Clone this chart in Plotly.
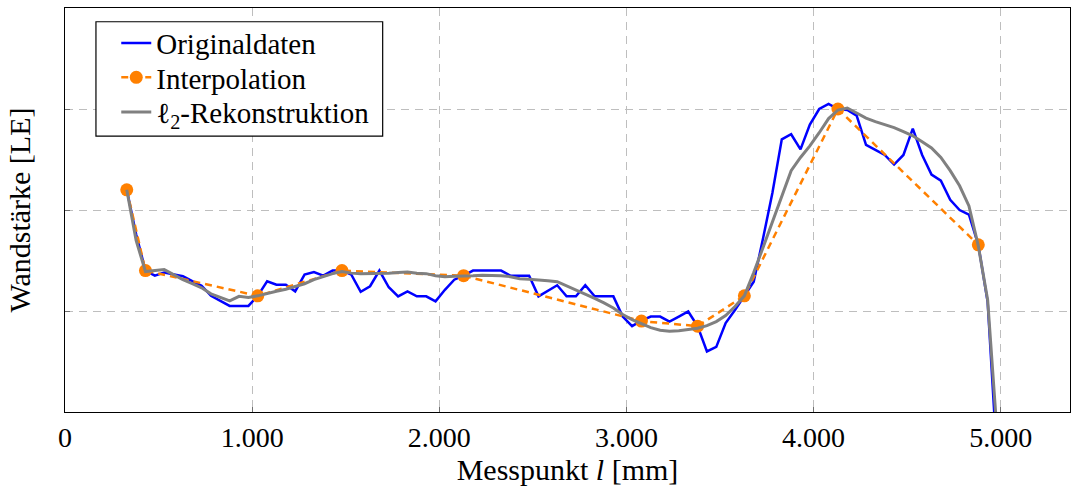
import plotly.graph_objects as go

# Original data (Messpunkt in mm, Wandstärke in LE)
orig_x = [330, 380, 430, 480, 530, 580, 630, 680, 730, 780, 830, 880, 930, 980,
          1030, 1080, 1130, 1180, 1230, 1280, 1330, 1380, 1430, 1480, 1530, 1580,
          1630, 1680, 1730, 1780, 1830, 1880, 1930, 1980, 2030, 2080, 2130, 2180,
          2230, 2280, 2330, 2380, 2430, 2480, 2530, 2580, 2630, 2680, 2730, 2780,
          2830, 2880, 2930, 2980, 3030, 3080, 3130, 3180, 3230, 3280, 3330, 3380,
          3430, 3480, 3530, 3580, 3630, 3680, 3730, 3780, 3830, 3880, 3930, 3980,
          4030, 4080, 4130, 4180, 4230, 4280, 4330, 4380, 4430, 4480, 4530, 4580,
          4630, 4680, 4730, 4780, 4830, 4880, 4930, 4980]
orig_y = [2.20, 1.76, 1.40, 1.35, 1.38, 1.36, 1.345, 1.295, 1.25, 1.15, 1.10, 1.05,
          1.05, 1.05, 1.15, 1.295, 1.26, 1.26, 1.195, 1.36, 1.385, 1.35, 1.40, 1.40,
          1.36, 1.19, 1.245, 1.40, 1.235, 1.145, 1.195, 1.145, 1.145, 1.095, 1.21,
          1.31, 1.35, 1.40, 1.40, 1.40, 1.40, 1.35, 1.35, 1.35, 1.145, 1.20, 1.255,
          1.145, 1.145, 1.255, 1.145, 1.145, 1.145, 0.945, 0.85, 0.905, 0.945, 0.945,
          0.895, 0.945, 0.995, 0.85, 0.60, 0.645, 0.88, 1.01, 1.15, 1.29, 1.72, 2.17,
          2.70, 2.75, 2.60, 2.845, 3.00, 3.05, 3.00, 2.99, 2.935, 2.645, 2.595, 2.545,
          2.45, 2.545, 2.805, 2.545, 2.35, 2.29, 2.10, 2.00, 1.955, 1.655, 1.09, -0.47]

# l2 reconstruction, same sample positions
rec_y = [2.20, 1.70, 1.39, 1.40, 1.41, 1.36, 1.31, 1.27, 1.23, 1.17, 1.135, 1.10,
         1.145, 1.135, 1.15, 1.175, 1.195, 1.215, 1.24, 1.27, 1.31, 1.34, 1.37, 1.39,
         1.375, 1.37, 1.37, 1.37, 1.375, 1.38, 1.385, 1.375, 1.37, 1.35, 1.34, 1.345,
         1.345, 1.35, 1.355, 1.355, 1.35, 1.34, 1.32, 1.315, 1.31, 1.30, 1.29, 1.25,
         1.21, 1.17, 1.125, 1.08, 1.03, 0.965, 0.915, 0.875, 0.835, 0.81, 0.80, 0.805,
         0.815, 0.83, 0.855, 0.895, 0.955, 1.045, 1.15, 1.38, 1.63, 1.885, 2.14, 2.39,
         2.52, 2.635, 2.765, 2.905, 2.99, 3.01, 2.96, 2.91, 2.875, 2.845, 2.815, 2.775,
         2.735, 2.675, 2.615, 2.52, 2.39, 2.24, 2.04, 1.645, 1.11, -0.2]

# Interpolation nodes
interp_x = [330, 430, 1030, 1480, 2130, 3080, 3380, 3630, 4130, 4880]
interp_y = [2.20, 1.40, 1.15, 1.40, 1.35, 0.90, 0.85, 1.15, 3.00, 1.655]

x_tickvals = [0, 1000, 2000, 3000, 4000, 5000]
x_ticktext = ["0", "1.000", "2.000", "3.000", "4.000", "5.000"]
y_gridvals = [1, 2, 3]

FONT = "Liberation Serif"
LEG_FONT = dict(family=FONT, size=29, color="black")

fig = go.Figure()
fig.add_trace(go.Scatter(x=orig_x, y=orig_y, mode="lines", name="Originaldaten",
                         line=dict(color="rgb(0,0,255)", width=2.5), legend="legend"))
fig.add_trace(go.Scatter(x=interp_x, y=interp_y, mode="lines+markers", name="Interpolation",
                         line=dict(color="rgb(255,128,0)", width=2.5, dash="7px,5px"),
                         marker=dict(color="rgb(255,128,0)", size=13, symbol="circle"),
                         legend="legend2"))
fig.add_trace(go.Scatter(x=orig_x, y=rec_y, mode="lines", name="ℓ<sub>2</sub>-Rekonstruktion",
                         line=dict(color="rgb(128,128,128)", width=3), legend="legend3"))

# legend frame (paper coords of the plot area)
fig.add_shape(type="rect", xref="paper", yref="paper",
              x0=0.0308, x1=0.3161, y0=0.683, y1=0.966,
              line=dict(color="black", width=1.2), fillcolor="white", layer="above")

leg_common = dict(x=0.051, xanchor="left", yanchor="middle",
                  bgcolor="rgba(0,0,0,0)", borderwidth=0, font=LEG_FONT)
fig.update_layout(
    width=1071, height=490,
    margin=dict(l=65, r=1, t=8, b=78),
    paper_bgcolor="white", plot_bgcolor="white",
    font=dict(family=FONT, size=28, color="black"),
    showlegend=True,
    legend=dict(y=0.913, **leg_common),
    legend2=dict(y=0.828, **leg_common),
    legend3=dict(y=0.742, **leg_common),
)
fig.update_xaxes(range=[0, 5370], tickvals=x_tickvals, ticktext=x_ticktext,
                 showgrid=True, gridcolor="rgb(190,190,190)", griddash="8px,6px", gridwidth=1,
                 showline=True, linecolor="black", linewidth=1.3, mirror=True,
                 ticks="inside", ticklen=5, tickcolor="rgb(110,110,110)",
                 zeroline=False,
                 tickfont=dict(family=FONT, size=28),
                 title=dict(text="Messpunkt <i>l</i> [mm]", standoff=6,
                            font=dict(family=FONT, size=30)))
fig.update_yaxes(range=[0, 4], tickvals=y_gridvals, showticklabels=False,
                 showgrid=True, gridcolor="rgb(190,190,190)", griddash="8px,6px", gridwidth=1,
                 showline=True, linecolor="black", linewidth=1.3, mirror=True,
                 ticks="inside", ticklen=5, tickcolor="rgb(110,110,110)",
                 zeroline=False,
                 title=dict(text="Wandstärke [LE]", standoff=24,
                            font=dict(family=FONT, size=30)))

fig.write_html("out.html")
